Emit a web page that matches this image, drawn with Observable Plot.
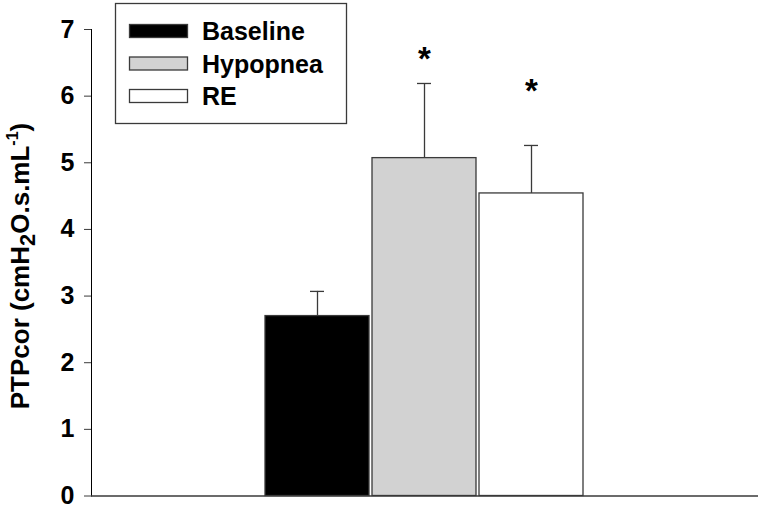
<!DOCTYPE html>
<html>
<head>
<meta charset="utf-8">
<script src="https://cdn.jsdelivr.net/npm/d3@7"></script>
<script src="https://cdn.jsdelivr.net/npm/@observablehq/plot@0.6"></script>
<style>
  html, body { margin: 0; padding: 0; background: #fff; }
  #chart { width: 760px; height: 508px; }
</style>
</head>
<body>
<div id="chart"></div>
<script>
// ---- data ----
const categories = ["Baseline", "Hypopnea", "RE"];
const means = [2.70, 5.07, 4.54];
const errors = [0.37, 1.12, 0.72];
const starCategories = ["Hypopnea", "RE"];
const starValues = [6.58, 6.10];
const yTicks = [0, 1, 2, 3, 4, 5, 6, 7];
const yLabelMain = "PTPcor (cmH";
const yLabelSub = "2";
const yLabelMid = "O.s.mL";
const yLabelSup = "-1";
const yLabelEnd = ")";

// ---- styles ----
const fills = ["#000000", "#d2d2d2", "#ffffff"];
const ink = "#3a3a3a";
const font = "'Liberation Sans', Arial, Helvetica, sans-serif";

const data = categories.map((c, i) => ({cond: c, value: means[i], err: errors[i]}));
const stars = starCategories.map((c, i) => ({cond: c, y: starValues[i]}));

const plot = Plot.plot({
  width: 760,
  height: 508,
  marginLeft: 91,
  marginRight: 2,
  marginTop: 29,
  marginBottom: 12.5,
  style: {fontFamily: font, fontSize: "25px", fontWeight: "bold", color: "#000", background: "#fff"},
  x: {domain: categories, range: [261.8, 586.2], padding: 0.024, axis: null},
  y: {domain: [0, 7], ticks: yTicks, tickSize: 7, tickPadding: 10, line: true, label: null, tickFormat: d3.format("d")},
  color: {domain: categories, range: fills},
  marks: [
    Plot.ruleX(data, {x: "cond", y1: "value", y2: d => d.value + d.err, stroke: ink, strokeWidth: 1.3}),
    Plot.tickY(data, {x: "cond", y: d => d.value + d.err, stroke: ink, strokeWidth: 1.3, insetLeft: 45, insetRight: 45}),
    Plot.barY(data, {x: "cond", y: "value", fill: "cond", stroke: ink, strokeWidth: 1.3}),
    Plot.text(stars, {x: "cond", y: "y", text: () => "*", fontSize: 33, fontWeight: "bold", fill: "#000", dy: 2}),
    Plot.ruleY([0], {stroke: ink, strokeWidth: 1.3})
  ]
});

document.getElementById("chart").appendChild(plot);

const svg = d3.select(plot);
// axis line/ticks colour and tick-label size
svg.selectAll("[aria-label='y-axis tick'], [aria-label='y-axis line']").attr("stroke", ink);
svg.selectAll("[aria-label='y-axis tick label']").attr("font-size", 25).attr("font-weight", "bold");
svg.selectAll("[aria-label='y-axis tick label'] text").attr("font-size", 25);

// y-axis label with subscript & superscript
const yl = svg.append("text")
  .attr("transform", "translate(29,266) rotate(-90)")
  .attr("text-anchor", "middle")
  .attr("font-family", font)
  .attr("font-weight", "bold")
  .attr("font-size", 26)
  .attr("fill", "#000");
yl.append("tspan").text(yLabelMain);
yl.append("tspan").attr("dy", 6).attr("font-size", 22).text(yLabelSub);
yl.append("tspan").attr("dy", -6).text(yLabelMid);
yl.append("tspan").attr("dy", -11).attr("font-size", 16).text(yLabelSup);
yl.append("tspan").attr("dy", 11).text(yLabelEnd);

// legend
const lg = svg.append("g");
lg.append("rect").attr("x", 115.5).attr("y", 3.5).attr("width", 231).attr("height", 120)
  .attr("fill", "#fff").attr("stroke", ink).attr("stroke-width", 1.3);
categories.forEach((c, i) => {
  const cy = 31 + i * 32.5;
  lg.append("rect").attr("x", 129.5).attr("y", cy - 6.5).attr("width", 58).attr("height", 13)
    .attr("fill", fills[i]).attr("stroke", ink).attr("stroke-width", 1.3);
  lg.append("text").attr("x", 202).attr("y", cy).attr("dy", "0.36em")
    .attr("text-anchor", "start")
    .attr("font-family", font).attr("font-weight", "bold").attr("font-size", 25)
    .attr("fill", "#000").text(c);
});
</script>
</body>
</html>
